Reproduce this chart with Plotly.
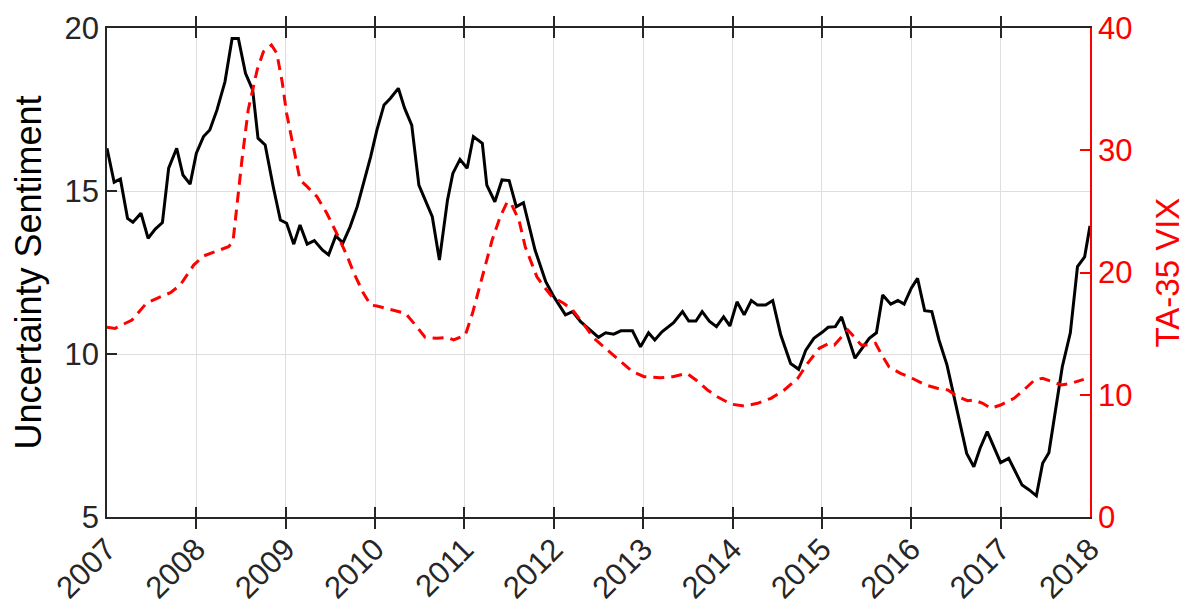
import plotly.graph_objects as go

# Uncertainty Sentiment (left axis)
sent_year = [2007.00, 2007.08, 2007.15, 2007.23, 2007.29, 2007.38, 2007.46, 2007.54, 2007.62, 2007.69,
             2007.78, 2007.85, 2007.93, 2008.00, 2008.08, 2008.15, 2008.23, 2008.32, 2008.40, 2008.47,
             2008.55, 2008.63, 2008.69, 2008.77, 2008.86, 2008.94, 2009.01, 2009.09, 2009.16, 2009.24,
             2009.32, 2009.41, 2009.48, 2009.56, 2009.64, 2009.72, 2009.80, 2009.87, 2009.95, 2010.02,
             2010.10, 2010.17, 2010.26, 2010.33, 2010.41, 2010.49, 2010.56, 2010.64, 2010.72, 2010.81,
             2010.87, 2010.95, 2011.03, 2011.10, 2011.20, 2011.25, 2011.34, 2011.42, 2011.50, 2011.58,
             2011.66, 2011.79, 2011.91, 2012.00, 2012.13, 2012.21, 2012.30, 2012.41, 2012.50, 2012.58,
             2012.67, 2012.75, 2012.88, 2012.97, 2013.06, 2013.13, 2013.21, 2013.34, 2013.44, 2013.51,
             2013.59, 2013.66, 2013.74, 2013.82, 2013.90, 2013.97, 2014.05, 2014.13, 2014.21, 2014.28,
             2014.37, 2014.45, 2014.54, 2014.65, 2014.74, 2014.82, 2014.91, 2015.01, 2015.07, 2015.15,
             2015.22, 2015.37, 2015.53, 2015.61, 2015.68, 2015.77, 2015.85, 2015.92, 2016.00, 2016.07,
             2016.15, 2016.23, 2016.31, 2016.40, 2016.52, 2016.62, 2016.70, 2016.77, 2016.85, 2016.93,
             2017.00, 2017.09, 2017.15, 2017.24, 2017.32, 2017.40, 2017.47, 2017.54, 2017.62, 2017.69,
             2017.78, 2017.86, 2017.94, 2018.00]
sent_val = [16.31, 15.27, 15.37, 14.16, 14.04, 14.32, 13.55, 13.83, 14.03, 15.70,
            16.31, 15.49, 15.21, 16.16, 16.67, 16.87, 17.48, 18.35, 19.68, 19.68,
            18.61, 18.10, 16.62, 16.41, 15.13, 14.11, 14.01, 13.37, 13.96, 13.37,
            13.48, 13.19, 13.04, 13.62, 13.41, 13.90, 14.52, 15.24, 16.05, 16.87,
            17.64, 17.84, 18.15, 17.54, 17.02, 15.18, 14.72, 14.21, 12.88, 14.72,
            15.54, 15.97, 15.70, 16.67, 16.46, 15.18, 14.67, 15.34, 15.32, 14.52,
            14.64, 13.19, 12.22, 11.76, 11.20, 11.30, 10.99, 10.74, 10.51, 10.65,
            10.61, 10.71, 10.71, 10.22, 10.65, 10.43, 10.68, 10.96, 11.30, 11.01,
            11.01, 11.30, 11.01, 10.84, 11.14, 10.86, 11.60, 11.20, 11.64, 11.50,
            11.50, 11.64, 10.58, 9.71, 9.53, 10.12, 10.48, 10.68, 10.82, 10.84,
            11.14, 9.87, 10.48, 10.65, 11.81, 11.53, 11.64, 11.53, 12.02, 12.32,
            11.33, 11.30, 10.43, 9.66, 8.18, 6.95, 6.54, 7.11, 7.62, 7.11,
            6.67, 6.80, 6.49, 5.98, 5.83, 5.65, 6.65, 6.97, 8.38, 9.61,
            10.65, 12.68, 12.98, 13.93]

# TA-35 VIX (right axis)
vix_year = [2007.00, 2007.09, 2007.28, 2007.44, 2007.56, 2007.71, 2007.82, 2007.97, 2008.08, 2008.36,
            2008.41, 2008.45, 2008.51, 2008.58, 2008.68, 2008.75, 2008.84, 2008.90, 2008.96, 2009.01,
            2009.09, 2009.16, 2009.24, 2009.35, 2009.46, 2009.57, 2009.69, 2009.76, 2009.87, 2009.95,
            2010.02, 2010.21, 2010.34, 2010.45, 2010.56, 2010.69, 2010.81, 2010.88, 2011.01, 2011.09,
            2011.18, 2011.31, 2011.40, 2011.48, 2011.53, 2011.61, 2011.68, 2011.81, 2011.89, 2011.98,
            2012.11, 2012.21, 2012.34, 2012.45, 2012.60, 2012.75, 2012.88, 2013.01, 2013.19, 2013.33,
            2013.49, 2013.59, 2013.72, 2013.83, 2013.98, 2014.13, 2014.28, 2014.43, 2014.58, 2014.73,
            2014.84, 2014.97, 2015.08, 2015.14, 2015.21, 2015.29, 2015.36, 2015.44, 2015.53, 2015.60,
            2015.66, 2015.75, 2015.88, 2016.01, 2016.16, 2016.29, 2016.41, 2016.52, 2016.63, 2016.70,
            2016.80, 2016.89, 2017.00, 2017.15, 2017.26, 2017.38, 2017.47, 2017.58, 2017.68, 2017.79,
            2017.93]
vix_val = [15.52, 15.43, 16.11, 17.48, 17.89, 18.35, 18.98, 20.61, 21.35, 22.11,
           22.52, 25.38, 29.20, 33.29, 36.56, 38.06, 38.61, 37.93, 35.61, 33.02,
           30.02, 27.57, 27.02, 26.20, 24.84, 23.21, 21.29, 20.00, 18.30, 17.34,
           17.26, 16.93, 16.66, 15.71, 14.70, 14.62, 14.70, 14.48, 14.89, 16.66,
           19.12, 22.66, 24.56, 25.79, 25.52, 24.29, 22.11, 19.66, 18.84, 18.02,
           17.48, 16.93, 15.71, 14.62, 13.66, 12.70, 11.89, 11.48, 11.39, 11.48,
           11.75, 11.21, 10.39, 9.84, 9.24, 9.08, 9.30, 9.71, 10.39, 11.35,
           12.57, 13.80, 14.21, 14.07, 14.62, 15.30, 14.75, 14.07, 14.07, 14.21,
           13.39, 12.29, 11.75, 11.35, 10.80, 10.53, 10.39, 9.84, 9.51, 9.57,
           9.30, 8.89, 9.16, 9.71, 10.39, 11.21, 11.35, 11.07, 10.80, 10.94,
           11.26]

year_ticks = list(range(2007, 2019))
left_ticks = [5, 10, 15, 20]
right_ticks = [0, 10, 20, 30, 40]

FONT = "Arial, Liberation Sans, Helvetica, sans-serif"
AXIS_DARK = "#262626"
RED = "#ff0000"
GRID = "#dedede"

fig = go.Figure()
fig.add_trace(go.Scatter(x=sent_year, y=sent_val, mode="lines", name="Uncertainty Sentiment",
                         line=dict(color="black", width=3)))
fig.add_trace(go.Scatter(x=vix_year, y=vix_val, mode="lines", name="TA-35 VIX", yaxis="y2",
                         line=dict(color=RED, width=3, dash="11px,7px")))

fig.update_layout(
    width=1186, height=609,
    margin=dict(l=107, r=96, t=28, b=92),
    paper_bgcolor="white", plot_bgcolor="white",
    showlegend=False,
    font=dict(family=FONT, size=31, color="black"),
    xaxis=dict(
        range=[2007, 2018], tickvals=year_ticks, ticktext=[str(y) for y in year_ticks],
        tickangle=-45, tickfont=dict(size=31, color="#262626"),
        showgrid=True, gridcolor=GRID, gridwidth=1,
        showline=True, linecolor=AXIS_DARK, linewidth=1.5, mirror="allticks",
        ticks="inside", ticklen=10, tickwidth=1.5, tickcolor=AXIS_DARK,
        zeroline=False, automargin=False,
    ),
    yaxis=dict(
        range=[5, 20], tickvals=left_ticks,
        tickfont=dict(size=31, color="#262626"),
        title=dict(text="Uncertainty Sentiment", font=dict(size=36, color="black"), standoff=12),
        showgrid=True, gridcolor=GRID, gridwidth=1,
        showline=True, linecolor=AXIS_DARK, linewidth=1.5,
        ticks="inside", ticklen=10, tickwidth=1.5, tickcolor=AXIS_DARK,
        zeroline=False, automargin=False,
    ),
    yaxis2=dict(
        range=[0, 40], tickvals=right_ticks, overlaying="y", side="right",
        tickfont=dict(size=31, color=RED),
        title=dict(text="TA-35 VIX", font=dict(size=33, color=RED), standoff=28),
        showgrid=False,
        showline=True, linecolor=RED, linewidth=1.5,
        ticks="inside", ticklen=10, tickwidth=1.5, tickcolor=RED,
        zeroline=False, automargin=False,
    ),
)

fig.write_html("out.html", config={"displayModeBar": False},
               post_script="document.body.style.margin='0';document.body.style.overflow='hidden';")
